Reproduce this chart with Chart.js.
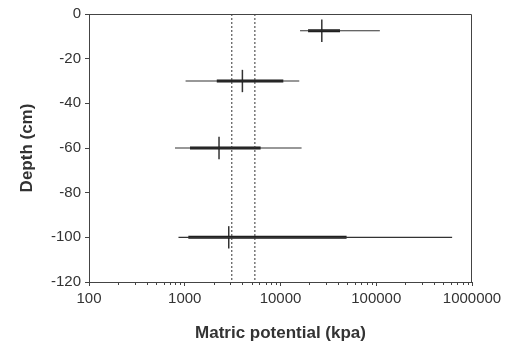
<!DOCTYPE html>
<html><head><meta charset="utf-8">
<script src="https://cdn.jsdelivr.net/npm/chart.js@4/dist/chart.umd.min.js"></script>
<style>html,body{margin:0;padding:0;background:#fff}#wrap{width:511px;height:346px}</style>
</head><body><div id="wrap"><canvas id="c" width="511" height="346"></canvas></div>
<script>
const depths = [-7.5, -30, -60, -100];
const minVals = [16000, 1020, 790, 860];
const maxVals = [109000, 15700, 16600, 620000];
const q1Vals = [19400, 2160, 1135, 1090];
const q3Vals = [41800, 10700, 6200, 49000];
const medians = [27000, 4000, 2280, 2880];
const refLines = [3100, 5400];
const xTicks = [100, 1000, 10000, 100000, 1000000];
const yTicks = [0, -20, -40, -60, -80, -100, -120];
const medHalf = 5;

const datasets = [];
refLines.forEach(v => datasets.push({data:[{x:v,y:0},{x:v,y:-120}], borderColor:'#333', borderWidth:1, borderDash:[2,2]}));
depths.forEach((d,i) => {
  datasets.push({data:[{x:minVals[i],y:d},{x:maxVals[i],y:d}], borderColor:'#333', borderWidth:1.2});
  datasets.push({data:[{x:q1Vals[i],y:d},{x:q3Vals[i],y:d}], borderColor:'#1a1a1a', borderWidth:3});
  datasets.push({data:[{x:medians[i],y:d-medHalf},{x:medians[i],y:d+medHalf}], borderColor:'#333', borderWidth:1.5});
});
datasets.forEach(ds => { ds.pointRadius = 0; ds.fill = false; ds.tension = 0; });

const frame = {
  id:'frame',
  afterDraw(chart){
    const {ctx, chartArea:a, scales:{x}} = chart;
    ctx.save();
    ctx.strokeStyle='#444'; ctx.lineWidth=1;
    ctx.beginPath();
    ctx.moveTo(a.left, a.top+0.5); ctx.lineTo(a.right-0.5, a.top+0.5); ctx.lineTo(a.right-0.5, a.bottom);
    ctx.stroke();
    ctx.beginPath();
    for (let e=2; e<6; e++) for (let m=2; m<10; m++) {
      const px = Math.round(x.getPixelForValue(m*Math.pow(10,e)))+0.5;
      ctx.moveTo(px, a.bottom); ctx.lineTo(px, a.bottom+3);
    }
    ctx.stroke();
    ctx.restore();
  }
};

new Chart(document.getElementById('c'), {
  type:'line',
  data:{datasets},
  options:{
    responsive:false, animation:false,
    layout:{padding:{left:0,right:39,top:14,bottom:0}},
    plugins:{legend:{display:false}, tooltip:{enabled:false}},
    scales:{
      x:{type:'logarithmic', min:100, max:1000000,
        afterBuildTicks(s){ s.ticks = xTicks.map(v=>({value:v})); },
        afterFit(s){ s.height = 64; },
        grid:{drawOnChartArea:false, tickLength:4, color:'#444'},
        border:{color:'#444', width:1},
        ticks:{color:'#333', font:{family:'Liberation Sans', size:15}, padding:4, maxRotation:0, autoSkip:false,
          callback:(v)=>String(v)},
        title:{display:true, text:'Matric potential (kpa)', color:'#333', font:{family:'Liberation Sans', size:17, weight:'bold'}, padding:{top:0,bottom:2}}
      },
      y:{type:'linear', min:-120, max:0,
        afterBuildTicks(s){ s.ticks = yTicks.map(v=>({value:v})); },
        afterFit(s){ s.width = 89; },
        grid:{drawOnChartArea:false, tickLength:4, color:'#444'},
        border:{color:'#444', width:1},
        ticks:{color:'#333', font:{family:'Liberation Sans', size:15}, padding:4},
        title:{display:true, text:'Depth (cm)', color:'#333', font:{family:'Liberation Sans', size:17, weight:'bold'}, padding:{top:17,bottom:0}}
      }
    }
  },
  plugins:[frame]
});
</script></body></html>
